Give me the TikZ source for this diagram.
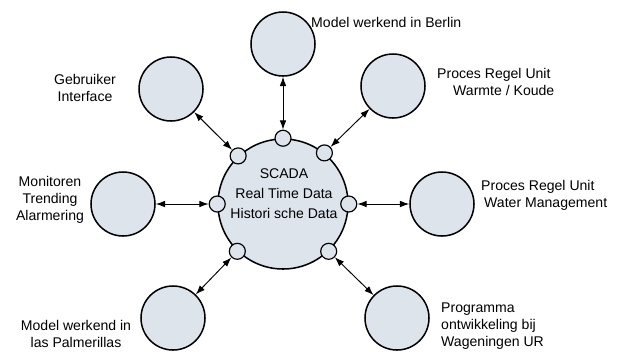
\documentclass[tikz,border=0pt]{standalone}
\usepackage{fontspec}
\setmainfont{Liberation Sans}
\usetikzlibrary{arrows.meta}
\definecolor{bolvulling}{RGB}{221,228,235}

\begin{document}
\begin{tikzpicture}[
        x=0.03cm, y=-0.03cm, % Coordenadas en pixeles
        font=\fontsize{12}{14.5}\selectfont, % Fuente de las etiquetas
        bol/.style={circle, draw, line width=1.3pt, fill=bolvulling, minimum size=1.92cm}, % Circulos exteriores
        kern/.style={circle, draw, line width=1.3pt, fill=bolvulling, minimum size=3.9cm}, % Circulo SCADA
        poort/.style={circle, draw, line width=1pt, fill=bolvulling, inner sep=0pt, minimum size=0.48cm}, % Puertos
        verbinding/.style={{Latex[length=2.8mm,width=2mm]}-{Latex[length=2.8mm,width=2mm]}, line width=0.8pt}, % Flechas
        tekst/.style={inner sep=0pt} % Etiquetas
    ]
        \useasboundingbox (0,0) rectangle (622,351);

        % --- Circulo central ---
        \node[kern] (scada) at (283,204) {};
        \node[tekst, align=center, font=\fontsize{12}{17}\selectfont] (scadatekst) at (284,194)
            {SCADA\\Real Time Data\\Histori sche Data};

        % --- Puertos en el borde ---
        \node[poort] (ptop) at (scada.90) {};
        \node[poort] (prb) at (scada.51) {};
        \node[poort] (plb) at (scada.133) {};
        \node[poort] (pl) at (scada.180) {};
        \node[poort] (pr) at (scada.0) {};
        \node[poort] (plo) at (scada.226) {};
        \node[poort] (pro) at (scada.314) {};

        % --- Circulos exteriores ---
        \node[bol] (berlin) at (283,44) {};
        \node[bol] (gebruiker) at (171,89) {};
        \node[bol] (warmte) at (393,86) {};
        \node[bol] (monitor) at (123,204) {};
        \node[bol] (water) at (442,204) {};
        \node[bol] (palmer) at (173,318) {};
        \node[bol] (wagen) at (397,318) {};

        % --- Flechas ---
        \draw[verbinding] (berlin) -- (ptop);
        \draw[verbinding] (gebruiker) -- (plb);
        \draw[verbinding] (warmte) -- (prb);
        \draw[verbinding] (monitor) -- (pl);
        \draw[verbinding] (water) -- (pr);
        \draw[verbinding] (palmer) -- (plo);
        \draw[verbinding] (wagen) -- (pro);

        % --- Etiquetas ---
        \node[tekst, anchor=west] (tberlin) at (311,22) {Model werkend in Berlin};
        \node[tekst, align=center] (tgebruiker) at (85,88) {Gebruiker\\Interface};
        \node[tekst, anchor=west, align=left] (twarmte) at (437,82) {Proces Regel Unit\\\hspace*{0.48cm}Warmte / Koude};
        \node[tekst, align=center] (tmonitor) at (50,200) {Monitoren\\Trending\\Alarmering};
        \node[tekst, anchor=west, align=left] (twater) at (481,195) {Proces Regel Unit\\\hspace*{0.09cm}Water Management};
        \node[tekst, align=center] (tpalmer) at (76,334) {Model werkend in\\las Palmerillas};
        \node[tekst, anchor=west, align=left] (twagen) at (441,326) {Programma\\ontwikkeling bij\\Wageningen UR};

    \end{tikzpicture}
\end{document}
